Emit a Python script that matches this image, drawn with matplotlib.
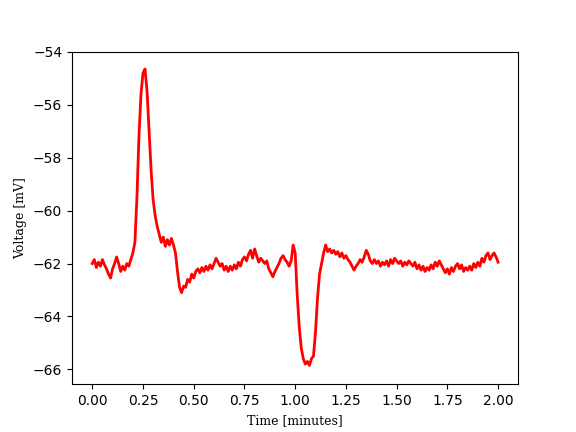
import numpy as np
import matplotlib
matplotlib.use('Agg')
import matplotlib.pyplot as plt

# time axis in minutes, sampled every 0.01 min
t_start = 0.0
t_step = 0.01

# membrane voltage [mV]
voltage = [
    -62.0, -61.85, -62.15, -61.95, -62.1, -61.85, -62.05, -62.2, -62.4, -62.55,
    -62.2, -62.0, -61.75, -62.0, -62.3, -62.1, -62.25, -62.0, -62.1, -61.85,
    -61.6, -61.2, -59.5, -57.2, -55.6, -54.8, -54.65, -55.5, -57.0, -58.5,
    -59.6, -60.2, -60.6, -60.9, -61.2, -61.0, -61.35, -61.1, -61.3, -61.05,
    -61.3, -61.6, -62.3, -62.9, -63.1, -62.85, -62.9, -62.6, -62.7, -62.4,
    -62.55, -62.3, -62.2, -62.35, -62.15, -62.3, -62.1, -62.25, -62.05, -62.2,
    -62.0, -61.8, -61.95, -62.1, -62.0, -62.25, -62.1, -62.3, -62.1, -62.25,
    -62.05, -62.2, -61.95, -62.1, -61.85, -61.75, -61.9, -61.65, -61.5, -61.8,
    -61.45, -61.7, -61.95, -61.8, -61.9, -62.0, -61.9, -62.2, -62.35, -62.5,
    -62.3, -62.15, -62.0, -61.8, -61.7, -61.85, -61.95, -62.1, -61.9, -61.3,
    -61.6, -63.2, -64.4, -65.2, -65.6, -65.8, -65.7, -65.85, -65.6, -65.5,
    -64.6, -63.3, -62.4, -62.0, -61.6, -61.3, -61.55, -61.45, -61.6, -61.5,
    -61.65, -61.55, -61.75, -61.6, -61.8, -61.7, -61.85, -61.95, -62.1, -62.25,
    -62.1, -62.0, -61.85, -61.95, -61.75, -61.5, -61.65, -61.9, -62.0, -61.85,
    -62.0, -61.9, -62.1, -61.95, -62.05, -61.9, -62.1, -61.85, -62.0, -61.8,
    -61.9, -62.0, -61.9, -62.1, -61.95, -62.05, -61.9, -62.0, -62.1, -61.95,
    -62.2, -62.05, -62.25, -62.1, -62.3, -62.15, -62.25, -62.05, -62.2, -61.95,
    -62.1, -61.9, -62.05, -62.2, -62.35, -62.2, -62.4, -62.15, -62.3, -62.1,
    -62.0, -62.2, -62.05, -62.3, -62.15, -62.25, -62.1, -62.25, -62.0, -62.15,
    -61.95, -62.1, -61.8, -61.95, -61.7, -61.6, -61.85, -61.7, -61.6, -61.75,
    -61.95,
]
time = t_start + t_step * np.arange(len(voltage))

fig, ax = plt.subplots(figsize=(5.76, 4.32), dpi=100)
ax.plot(time, voltage, color='red', linewidth=2.0)
ax.set_xlim(-0.1, 2.1)
ax.set_ylim(-66.57, -54.0)
ax.set_xlabel('Time [minutes]', family='DejaVu Serif', fontsize=9)
ax.set_ylabel('Voltage [mV]', family='DejaVu Serif', fontsize=9)
fig.savefig('out.png', dpi=100)
